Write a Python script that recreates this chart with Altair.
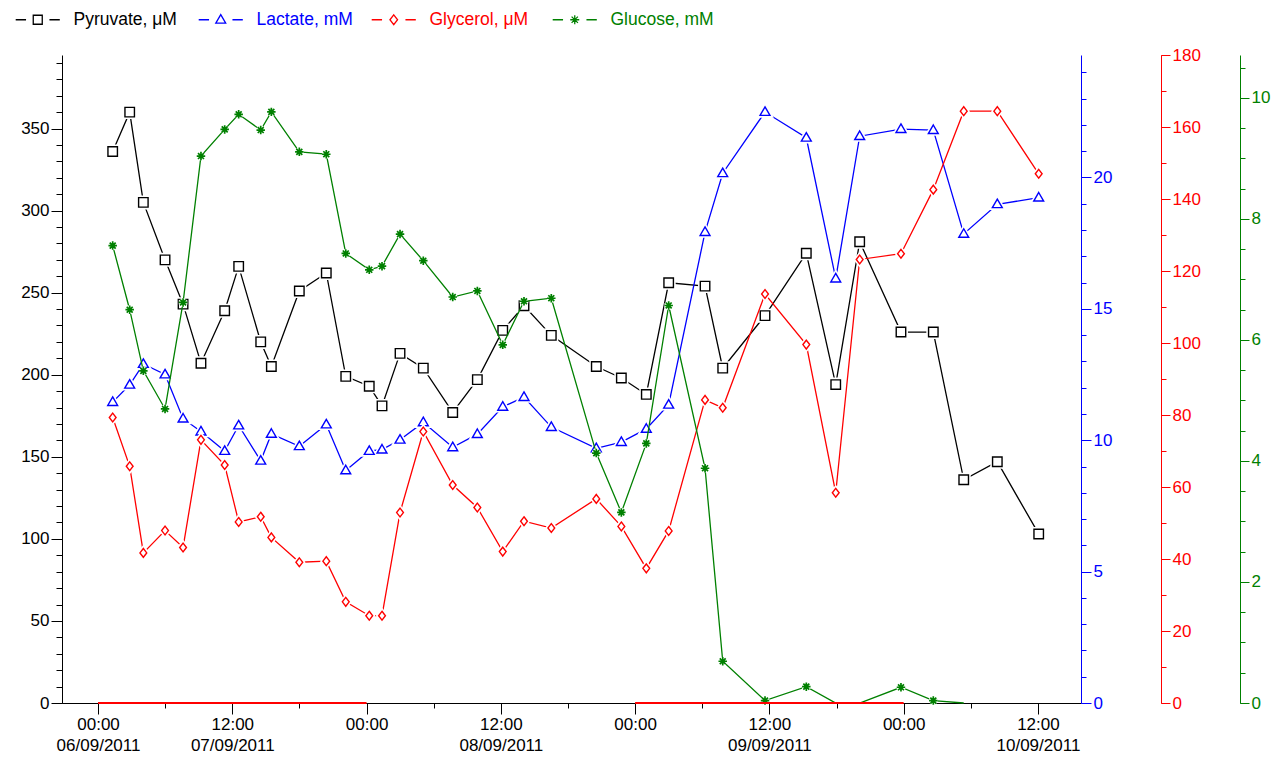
import json
import altair as alt
import pandas as pd

# ---------------- data (hours after 06/09/2011 00:00) ----------------
hours = [1.31, 2.83, 4.05, 5.99, 7.6, 9.2, 11.32, 12.57, 14.54, 15.49, 17.99, 20.4,
         22.14, 24.24, 25.38, 26.99, 29.07, 31.7, 33.9, 36.17, 38.07, 40.51, 44.53,
         46.77, 49.0, 51.0, 54.25, 55.83, 59.61, 63.3, 65.93, 68.07, 71.76, 74.65,
         77.37, 80.37, 84.07]
pyruvate = [336, 360, 305, 270, 243, 207, 239, 266, 220, 205, 251, 262, 199, 193, 181,
            213, 204, 177, 197, 227, 242, 224, 205, 198, 188, 256, 254, 204, 236, 274,
            194, 281, 226, 226, 136, 147, 103]
lactate = [11.45, 12.11, 12.9, 12.5, 10.82, 10.33, 9.59, 10.56, 9.22, 10.24, 9.77, 10.6,
           8.85, 9.59, 9.64, 10.02, 10.68, 9.73, 10.23, 11.27, 11.64, 10.5, 9.69, 9.93,
           10.43, 11.35, 17.92, 20.16, 22.49, 21.51, 16.15, 21.57, 21.84, 21.8, 17.85,
           18.98, 19.23]
glycerol = [79.3, 65.75, 41.7, 47.9, 43.2, 73.1, 66.1, 50.3, 51.75, 46.0, 39.1, 39.4,
            28.1, 24.25, 24.25, 52.9, 75.4, 60.55, 54.3, 42.05, 50.5, 48.6, 56.7, 49.05,
            37.4, 47.8, 84.2, 82.0, 113.6, 99.55, 58.4, 123.2, 124.8, 142.6, 164.4,
            164.4, 147.0]
glucose = [7.56, 6.5, 5.49, 4.86, 6.62, 9.04, 9.48, 9.73, 9.47, 9.77, 9.11, 9.07, 7.43,
           7.16, 7.22, 7.75, 7.31, 6.71, 6.81, 5.92, 6.64, 6.69, 4.13, 3.15, 4.29, 6.57,
           3.88, 0.69, 0.04, 0.27, 0.0, 0.0, 0.26, 0.04, 0.0, None, None]

day_band_start = [0, 48]
day_band_end = [24, 72]

x_tick_hours = [0, 12, 24, 36, 48, 60, 72, 84]
x_tick_time = ["00:00", "12:00", "00:00", "12:00", "00:00", "12:00", "00:00", "12:00"]
x_tick_date = ["06/09/2011", "07/09/2011", "", "08/09/2011", "", "09/09/2011", "", "10/09/2011"]
x_minor_hours = [6, 18, 30, 42, 54, 66, 78]

series_names = ["Pyruvate, μM", "Lactate, mM", "Glycerol, μM", "Glucose, mM"]
series_fields = ["pyruvate", "lactate", "glycerol", "glucose"]

# ---------------- styling ----------------
FONT = "Liberation Sans"
FS = 17
LFS = 17.5
W, H = 1019, 648
x_scale = alt.Scale(domain=[-3.22, 87.85], nice=False, zero=False)

styles = [
    dict(color="#000000", ymax=394.8, major=list(range(0, 351, 50)), minor=list(range(0, 391, 10)),
         orient="left", offset=0, lx=-33, tmaj=11, tmin=6,
         shape="M-1,-1H1V1H-1Z", size=90, sw=1.4),
    dict(color="#0000FF", ymax=24.66, major=[0, 5, 10, 15, 20], minor=list(range(0, 25)),
         orient="right", offset=0, lx=150, tmaj=10, tmin=5,
         shape="M0,-1.15L1.1,0.75H-1.1Z", size=81, sw=1.4),
    dict(color="#FF0000", ymax=180, major=list(range(0, 181, 20)), minor=list(range(0, 181, 10)),
         orient="right", offset=80, lx=323, tmaj=9, tmin=5,
         shape="M0,-1.1L0.85,0L0,1.1L-0.85,0Z", size=64, sw=1.4),
    dict(color="#008000", ymax=10.71, major=[0, 2, 4, 6, 8, 10], minor=[v / 2 for v in range(0, 22)],
         orient="right", offset=159, lx=504, tmaj=9, tmin=5,
         shape="M-1,0H1M0,-1V1M-0.7,-0.7L0.7,0.7M-0.7,0.7L0.7,-0.7", size=72, sw=1.7),
]

legend_dashes = "M-4.9,0H-2.6M2.6,0H4.9"

df = pd.DataFrame({"hours": hours, "pyruvate": pyruvate, "lactate": lactate,
                   "glycerol": glycerol, "glucose": glucose})

label_arr = [[t, d] if d else [t] for t, d in zip(x_tick_time, x_tick_date)]
x_label_expr = json.dumps(label_arr, ensure_ascii=False) + "[round(datum.value / 12)]"

x_major_axis = alt.Axis(orient="bottom", values=x_tick_hours, labelExpr=x_label_expr,
                        tickSize=11, labelPadding=2, labelFont=FONT, labelFontSize=FS,
                        labelColor="black", labelLineHeight=21, labelFlush=False,
                        labelOverlap=False, tickColor="black", domainColor="black",
                        grid=False, title=None)
x_minor_axis = alt.Axis(orient="bottom", values=x_minor_hours, labels=False, tickSize=5,
                        tickColor="black", domain=False, grid=False, title=None)

layers = []
for i, (name, f, s) in enumerate(zip(series_names, series_fields, styles)):
    base = (alt.Chart(df)
            .transform_filter(f"isValid(datum.{f}) && isFinite(datum.{f})")
            .transform_calculate(series=json.dumps(name, ensure_ascii=False)))
    yscale = alt.Scale(domain=[0, s["ymax"]], nice=False, zero=False)
    y_major = alt.Axis(orient=s["orient"], offset=s["offset"], values=s["major"],
                       tickSize=s["tmaj"], labelPadding=2, labelFont=FONT, labelFontSize=FS,
                       labelColor=s["color"], tickColor=s["color"], domainColor=s["color"],
                       grid=False, title=None, labelFlush=False, labelOverlap=False)
    y_minor = alt.Axis(orient=s["orient"], offset=s["offset"], values=s["minor"], labels=False,
                       tickSize=s["tmin"], tickColor=s["color"], domain=False, grid=False,
                       title=None)
    legend = alt.Legend(orient="none", legendX=s["lx"], legendY=-44, title=None,
                        symbolType=legend_dashes + s["shape"], symbolSize=81,
                        symbolStrokeWidth=1.3, symbolFillColor="transparent",
                        labelColor=s["color"], labelFont=FONT, labelFontSize=LFS,
                        labelOffset=27, padding=0)
    line = base.mark_line(strokeWidth=1.3).encode(
        x=alt.X("hours:Q", scale=x_scale, axis=x_major_axis if i == 0 else None),
        y=alt.Y(f"{f}:Q", scale=yscale, axis=y_major),
        stroke=alt.Stroke("series:N", scale=alt.Scale(domain=[name], range=[s["color"]]),
                          legend=legend),
    )
    pts = base.transform_filter(f"datum.{f} > 0")
    halo = pts.mark_point(shape=s["shape"], size=s["size"], filled=True, fill="white",
                          stroke="white", strokeWidth=4.5, opacity=1).encode(
        x=alt.X("hours:Q", scale=x_scale, axis=None),
        y=alt.Y(f"{f}:Q", scale=yscale, axis=None),
    )
    marker = pts.mark_point(shape=s["shape"], size=s["size"], filled=True, fill="white",
                            stroke=s["color"], strokeWidth=s["sw"], opacity=1).encode(
        x=alt.X("hours:Q", scale=x_scale, axis=x_minor_axis if i == 0 else None),
        y=alt.Y(f"{f}:Q", scale=yscale, axis=y_minor),
    )
    lay = alt.layer(line, halo, marker)
    if i == 0:
        lay = lay.resolve_axis(x="independent", y="independent")
    else:
        lay = lay.resolve_axis(y="independent")
    layers.append(lay)

band_df = pd.DataFrame({"start": day_band_start, "end": day_band_end})
band = alt.Chart(band_df).mark_rule(color="#FF0000", strokeWidth=2).encode(
    x=alt.X("start:Q", scale=x_scale, axis=None),
    x2="end:Q",
    y=alt.YDatum(datum=0, scale=alt.Scale(domain=[0, 1]), axis=None),
)

chart = (
    alt.layer(*layers, band)
    .resolve_scale(y="independent", stroke="independent")
    .properties(width=W, height=H, background="white",
                padding={"left": 54, "top": 47, "right": 190, "bottom": 56},
                autosize=alt.AutoSizeParams(type="none"))
    .configure_view(stroke=None)
)

chart.save("out.html", embed_options={"renderer": "svg", "actions": False})
